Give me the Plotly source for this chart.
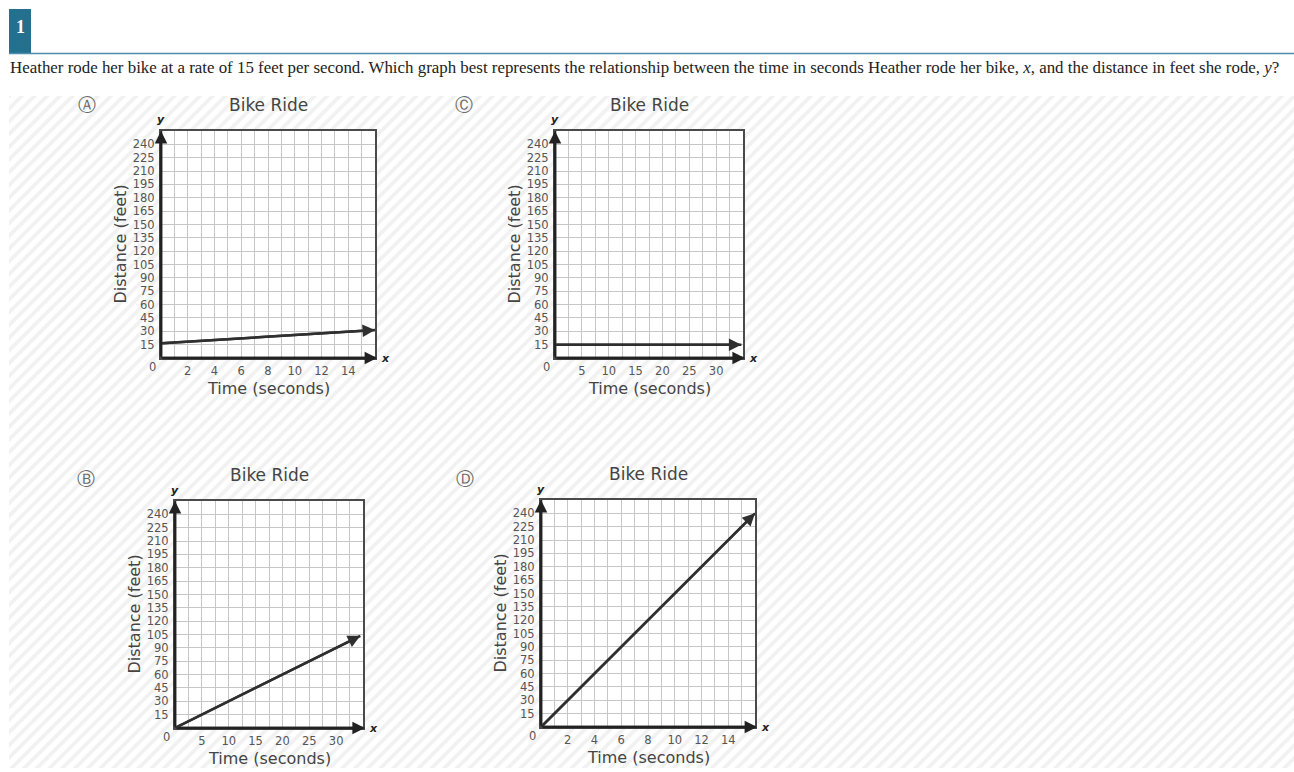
import plotly.graph_objects as go

W, H = 1294, 772

# ---------------- data ----------------
question = ("Heather rode her bike at a rate of 15 feet per second. Which graph best represents the "
            "relationship between the time in seconds Heather rode her bike, <i>x</i>, and the distance "
            "in feet she rode, <i>y</i>?")
panel_letters = ["Ⓐ", "Ⓒ", "Ⓑ", "Ⓓ"]
chart_title = "Bike Ride"
x_title = "Time (seconds)"
y_title = "Distance (feet)"

y_ticks = [15, 30, 45, 60, 75, 90, 105, 120, 135, 150, 165, 180, 195, 210, 225, 240]
x_ticks_short = [2, 4, 6, 8, 10, 12, 14]
x_ticks_long = [5, 10, 15, 20, 25, 30]

A_time = [0, 16]
A_dist = [16.5, 31.5]
B_time = [0, 34.5]
B_dist = [0, 103.5]
C_time = [0, 34.7]
C_dist = [15, 15]
D_time = [0, 16]
D_dist = [0, 240]

# ---------------- layout helpers ----------------
def PX(px):
    return px / W


def PY(py):
    return 1 - py / H


panels = [
    dict(letter=panel_letters[0], t=A_time, d=A_dist, xmax=16, xg=1, xt=x_ticks_short,
         box=(161, 375, 131, 358), lp=(87, 104)),
    dict(letter=panel_letters[1], t=C_time, d=C_dist, xmax=35, xg=2.5, xt=x_ticks_long,
         box=(555, 743, 131, 358), lp=(464, 104)),
    dict(letter=panel_letters[2], t=B_time, d=B_dist, xmax=35, xg=2.5, xt=x_ticks_long,
         box=(175, 363, 501, 728), lp=(86, 478)),
    dict(letter=panel_letters[3], t=D_time, d=D_dist, xmax=16, xg=1, xt=x_ticks_short,
         box=(541, 755, 500, 727), lp=(465, 478)),
]

fig = go.Figure()
FONT = "DejaVu Sans"
INK = "#2f2f2f"
AXIS_INK = "#222222"
YMAX = 255


def head(xa, ya, x, y, ax, ay, color):
    """Arrowhead (annotation arrow) pointing from (ax, ay) to (x, y) in data coords."""
    return dict(text="", xref=xa, yref=ya, axref=xa, ayref=ya, x=x, y=y, ax=ax, ay=ay,
                showarrow=True, arrowhead=2, arrowsize=1.0, arrowwidth=2.5,
                arrowcolor=color, standoff=0, startstandoff=0)


# hatched background (subplot 1)
fig.add_trace(go.Bar(
    x=[0.5], y=[1], width=[1], xaxis="x", yaxis="y",
    marker=dict(color="white", line=dict(width=0),
                pattern=dict(shape="/", fgcolor="#e4e4e4", bgcolor="white", size=9, solidity=0.42)),
    hoverinfo="skip", showlegend=False,
))
layout = dict(
    xaxis=dict(domain=[PX(9), 1], range=[0, 1], visible=False, fixedrange=True),
    yaxis=dict(domain=[PY(768), PY(96)], range=[0, 1], visible=False, fixedrange=True),
)

annotations = []
for i, p in enumerate(panels):
    n = i + 2
    xa, ya = f"x{n}", f"y{n}"
    l, r, t, b = p["box"]
    axis_common = dict(
        showgrid=True, gridcolor="#c6c6c6", gridwidth=1.3,
        showline=True, linecolor="#4a4a4a", linewidth=2, mirror=True,
        zeroline=False, ticks="", fixedrange=True,
        tickfont=dict(family=FONT, size=11.5, color="#555555"),
    )
    layout[f"xaxis{n}"] = dict(
        axis_common, domain=[PX(l), PX(r)], range=[0, p["xmax"]], anchor=ya,
        tickmode="array", tickvals=p["xt"], ticklabelstandoff=1,
        minor=dict(tick0=0, dtick=p["xg"], showgrid=True, gridcolor="#c6c6c6", gridwidth=1.3),
    )
    layout[f"yaxis{n}"] = dict(
        axis_common, domain=[PY(b), PY(t)], range=[0, YMAX], anchor=xa,
        tickmode="array", tickvals=y_ticks, ticklabelstandoff=2,
        minor=dict(tick0=0, dtick=15, showgrid=True, gridcolor="#c6c6c6", gridwidth=1.3),
    )
    xend = p["xmax"] * 1.01
    # axis lines (decorations built from the axis ranges)
    fig.add_trace(go.Scatter(
        x=[0, xend], y=[0, 0], xaxis=xa, yaxis=ya, mode="lines",
        line=dict(color=AXIS_INK, width=2.5), cliponaxis=False, hoverinfo="skip", showlegend=False,
    ))
    fig.add_trace(go.Scatter(
        x=[0, 0], y=[0, YMAX], xaxis=xa, yaxis=ya, mode="lines",
        line=dict(color=AXIS_INK, width=2.5), cliponaxis=False, hoverinfo="skip", showlegend=False,
    ))
    # data line
    fig.add_trace(go.Scatter(
        x=p["t"], y=p["d"], xaxis=xa, yaxis=ya, mode="lines",
        line=dict(color=INK, width=2.5), cliponaxis=False, hoverinfo="skip", showlegend=False,
    ))
    annotations += [
        head(xa, ya, xend, 0, 0, 0, AXIS_INK),
        head(xa, ya, 0, YMAX, 0, 0, AXIS_INK),
        head(xa, ya, p["t"][-1], p["d"][-1], p["t"][0], p["d"][0], INK),
    ]
    dom_x, dom_y = f"{xa} domain", f"{ya} domain"
    annotations += [
        dict(text=chart_title, xref=dom_x, yref=dom_y, x=0.5, y=1, yshift=26,
             xanchor="center", yanchor="middle", showarrow=False,
             font=dict(family=FONT, size=17, color="#444444")),
        dict(text=x_title, xref=dom_x, yref=dom_y, x=0.5, y=0, yshift=-30,
             xanchor="center", yanchor="middle", showarrow=False,
             font=dict(family=FONT, size=16, color="#444444")),
        dict(text=y_title, xref=dom_x, yref=dom_y, x=0, y=0.5, xshift=-41, textangle=-90,
             xanchor="center", yanchor="middle", showarrow=False,
             font=dict(family=FONT, size=16, color="#444444")),
        dict(text="0", xref=dom_x, yref=dom_y, x=0, y=0, xshift=-9, yshift=-9,
             xanchor="center", yanchor="middle", showarrow=False,
             font=dict(family=FONT, size=11.5, color="#555555")),
        dict(text="<b><i>y</i></b>", xref=dom_x, yref=dom_y, x=0, y=1, yshift=11,
             xanchor="center", yanchor="middle", showarrow=False,
             font=dict(family=FONT, size=11, color="#222222")),
        dict(text="<b><i>x</i></b>", xref=dom_x, yref=dom_y, x=1, y=0, xshift=10,
             xanchor="center", yanchor="middle", showarrow=False,
             font=dict(family=FONT, size=11, color="#222222")),
        dict(text=p["letter"], xref="paper", yref="paper", x=PX(p["lp"][0]), y=PY(p["lp"][1]),
             xanchor="center", yanchor="middle", showarrow=False,
             font=dict(family=FONT, size=18, color="#666666")),
    ]

# header
annotations += [
    dict(text="<b>1</b>", xref="paper", yref="paper", x=PX(20), y=PY(27),
         xanchor="center", yanchor="middle", showarrow=False,
         font=dict(family="Liberation Serif", size=18, color="white")),
    dict(text=question, xref="paper", yref="paper", x=PX(8), y=PY(68),
         xanchor="left", yanchor="middle", showarrow=False,
         font=dict(family="Liberation Serif", size=16.9, color="#222222")),
]
shapes = [
    dict(type="rect", xref="paper", yref="paper", x0=PX(9), x1=PX(31), y0=PY(53), y1=PY(9),
         fillcolor="#23708f", line=dict(width=0)),
    dict(type="line", xref="paper", yref="paper", x0=PX(9), x1=1, y0=PY(53.5), y1=PY(53.5),
         line=dict(color="#4f8cab", width=1.5)),
]

fig.update_layout(
    **layout,
    width=W, height=H, margin=dict(l=0, r=0, t=0, b=0),
    paper_bgcolor="white", plot_bgcolor="white",
    annotations=annotations, shapes=shapes, showlegend=False,
    bargap=0,
)

fig.write_html("out.html", config=dict(displayModeBar=False),
               post_script="document.body.style.margin='0';document.body.style.overflow='hidden';")
